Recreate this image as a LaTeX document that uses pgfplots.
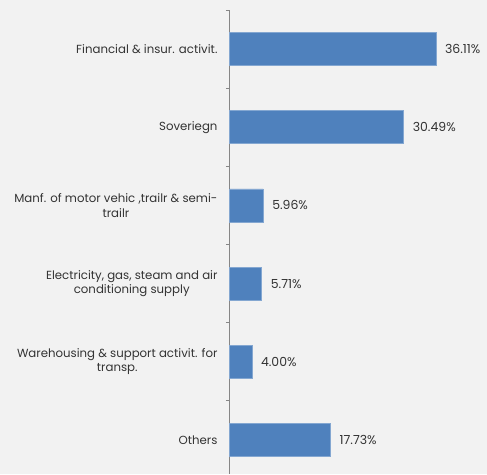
\documentclass[border=0pt]{standalone}
\usepackage{fontspec}
\setmainfont{Poppins}
\usepackage{pgfplots}
\pgfplotsset{compat=1.18}
\definecolor{bg}{HTML}{F2F2F2}
\definecolor{barblue}{HTML}{4F81BD}
\definecolor{axgray}{HTML}{868686}
\definecolor{txt}{HTML}{333333}
\begin{document}
\begin{tikzpicture}
\fill[bg] (0,0) rectangle (487bp,474bp);
\begin{axis}[
  at={(229bp,0bp)}, anchor=south west,
  scale only axis, width=229.2bp, height=464bp,
  xmin=0, xmax=40, ymin=-0.5, ymax=5.436,
  y dir=reverse,
  axis x line=none,
  axis y line=left,
  y axis line style={-, draw=axgray, line width=0.8pt},
  ytick={0,1,2,3,4,5},
  yticklabels={{Financial \& insur. activit.},{Soveriegn},{Manf. of motor vehic ,trailr \& semi-\\trailr},{Electricity, gas, steam and air\\conditioning supply},{Warehousing \& support activit. for\\transp.},{Others}},
  major tick length=0pt,
  minor ytick={-0.5,0.5,1.5,2.5,3.5,4.5},
  minor tick length=3bp,
  tick align=outside,
  minor tick style={draw=axgray, line width=0.8pt},
  yticklabel style={align=center, font=\fontsize{11.8}{14.5}\selectfont, text=txt, xshift=-8bp},
  xbar, bar width=33bp,
  nodes near coords={\pgfmathprintnumber[fixed,fixed zerofill,precision=2]{\pgfplotspointmeta}\%},
  every node near coord/.append style={font=\fontsize{12.5}{14}\selectfont, text=txt, anchor=west, xshift=5.5bp},
  /pgf/number format/assume math mode=true,
  clip=false,
]
\addplot[fill=barblue, draw=barblue!70!white, line width=0.6pt] coordinates {
(36.11,0) (30.49,1) (5.96,2) (5.71,3) (4.00,4) (17.73,5)};
\end{axis}
\end{tikzpicture}
\end{document}
